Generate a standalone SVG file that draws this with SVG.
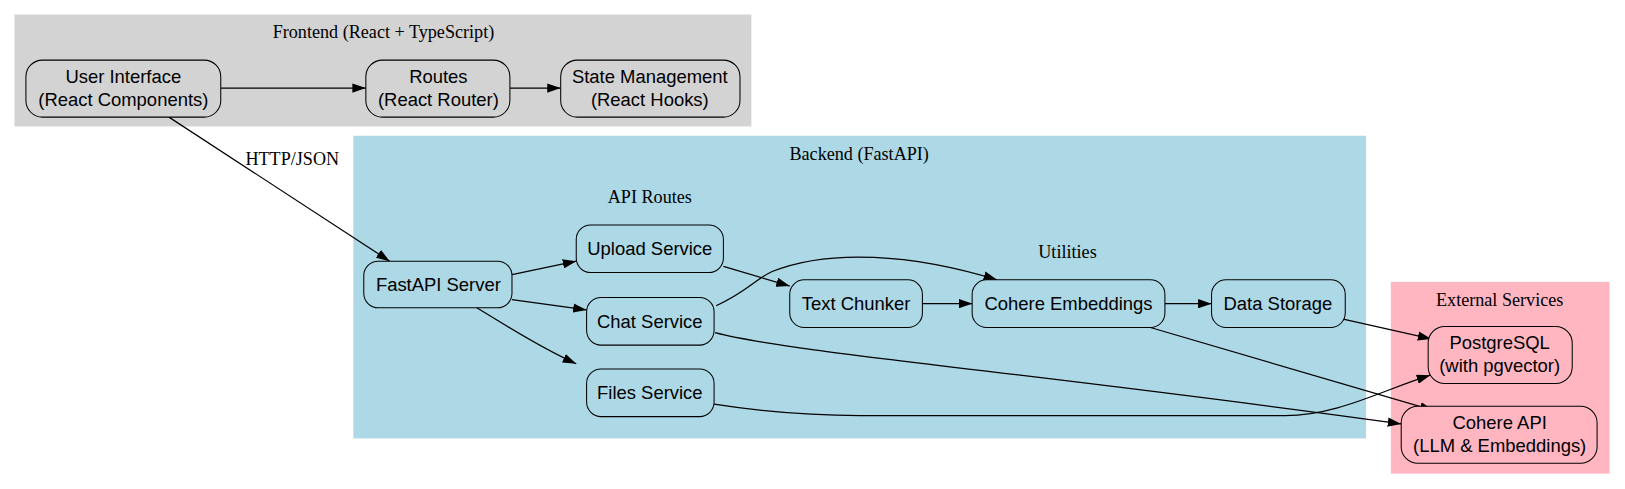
<svg xmlns="http://www.w3.org/2000/svg" width="1625" height="489" viewBox="0 0 1625 489">
<style>
.cl{font-family:"Liberation Serif","Times New Roman",serif;font-size:17.5px;fill:#000;text-anchor:middle}
.nt{font-family:"Liberation Sans",Arial,sans-serif;font-size:17.8px;fill:#000;text-anchor:middle}
.n{stroke:#000;stroke-width:1}
.e{fill:none;stroke:#000;stroke-width:1.2}
</style>
<defs>
<marker id="ah" viewBox="0 0 13 9" refX="13" refY="4.5" markerWidth="13" markerHeight="9" markerUnits="userSpaceOnUse" orient="auto">
<path d="M0,0 L13,4.5 L0,9 Z" fill="#000"/>
</marker>
</defs>
<rect width="1625" height="489" fill="#fff"/>
<g transform="scale(1.0364)">
<g id="cluster-frontend">
<rect x="14" y="14" width="711" height="108" fill="#d3d3d3"/>
<text class="cl" x="370" y="37">Frontend (React + TypeScript)</text>
</g>
<g id="cluster-backend">
<rect x="341" y="131" width="977" height="292" fill="#add8e6"/>
<text class="cl" x="829" y="154">Backend (FastAPI)</text>
<text class="cl" x="627" y="196">API Routes</text>
<text class="cl" x="1030" y="249">Utilities</text>
</g>
<g id="cluster-external">
<rect x="1342" y="272" width="211" height="185" fill="#ffb6c1"/>
<text class="cl" x="1447" y="295">External Services</text>
</g>
<g id="connectors">
<path class="e" d="M213,85 L353,85" marker-end="url(#ah)"/>
<path class="e" d="M492,85 L541,85" marker-end="url(#ah)"/>
<path class="e" d="M163,113 L376,252" marker-end="url(#ah)"/>
<text class="cl" x="282" y="159">HTTP/JSON</text>
<path class="e" d="M494,265 L556,252" marker-end="url(#ah)"/>
<path class="e" d="M494,289 L566,299" marker-end="url(#ah)"/>
<path class="e" d="M460,297 C490,315 520,335 556,351" marker-end="url(#ah)"/>
<path class="e" d="M698,257 L762,276" marker-end="url(#ah)"/>
<path class="e" d="M691,295 C720,282 728,270 745,262 C800,240 880,245 962,270" marker-end="url(#ah)"/>
<path class="e" d="M890,293 L938,293" marker-end="url(#ah)"/>
<path class="e" d="M1124,293 L1169,293" marker-end="url(#ah)"/>
<path class="e" d="M1110,316 L1383,396" marker-end="url(#ah)"/>
<path class="e" d="M1296,308 L1381,327" marker-end="url(#ah)"/>
<path class="e" d="M690,321 C760,340 1000,360 1352,409" marker-end="url(#ah)"/>
<path class="e" d="M689,390 C740,398 780,401 830,401 L1240,401 C1290,401 1330,378 1380,362" marker-end="url(#ah)"/>
</g>
<g id="node-ui">
<rect class="n" x="25" y="58" width="188" height="55" rx="16" fill="#d3d3d3"/>
<text class="nt" x="119" y="80">User Interface</text>
<text class="nt" x="119" y="102">(React Components)</text>
</g>
<g id="node-routes">
<rect class="n" x="353" y="58" width="139" height="55" rx="16" fill="#d3d3d3"/>
<text class="nt" x="423" y="80">Routes</text>
<text class="nt" x="423" y="102">(React Router)</text>
</g>
<g id="node-state">
<rect class="n" x="541" y="58" width="173" height="55" rx="16" fill="#d3d3d3"/>
<text class="nt" x="627" y="80">State Management</text>
<text class="nt" x="627" y="102">(React Hooks)</text>
</g>
<g id="node-fastapi">
<rect class="n" x="351" y="252" width="143" height="45" rx="14" fill="#add8e6"/>
<text class="nt" x="423" y="281">FastAPI Server</text>
</g>
<g id="node-upload">
<rect class="n" x="556" y="217" width="142" height="46" rx="14" fill="#add8e6"/>
<text class="nt" x="627" y="246">Upload Service</text>
</g>
<g id="node-chat">
<rect class="n" x="566" y="287" width="123" height="46" rx="14" fill="#add8e6"/>
<text class="nt" x="627" y="316">Chat Service</text>
</g>
<g id="node-files">
<rect class="n" x="566" y="356" width="123" height="46" rx="14" fill="#add8e6"/>
<text class="nt" x="627" y="385">Files Service</text>
</g>
<g id="node-chunker">
<rect class="n" x="762" y="270" width="128" height="46" rx="14" fill="#add8e6"/>
<text class="nt" x="826" y="299">Text Chunker</text>
</g>
<g id="node-embeddings">
<rect class="n" x="938" y="270" width="186" height="46" rx="14" fill="#add8e6"/>
<text class="nt" x="1031" y="299">Cohere Embeddings</text>
</g>
<g id="node-storage">
<rect class="n" x="1169" y="270" width="129" height="46" rx="14" fill="#add8e6"/>
<text class="nt" x="1233" y="299">Data Storage</text>
</g>
<g id="node-postgres">
<rect class="n" x="1378" y="315" width="139" height="55" rx="16" fill="#ffb6c1"/>
<text class="nt" x="1447" y="337">PostgreSQL</text>
<text class="nt" x="1447" y="359">(with pgvector)</text>
</g>
<g id="node-cohere">
<rect class="n" x="1352" y="392" width="189" height="55" rx="16" fill="#ffb6c1"/>
<text class="nt" x="1447" y="414">Cohere API</text>
<text class="nt" x="1447" y="436">(LLM &amp; Embeddings)</text>
</g>
</g>
</svg>
